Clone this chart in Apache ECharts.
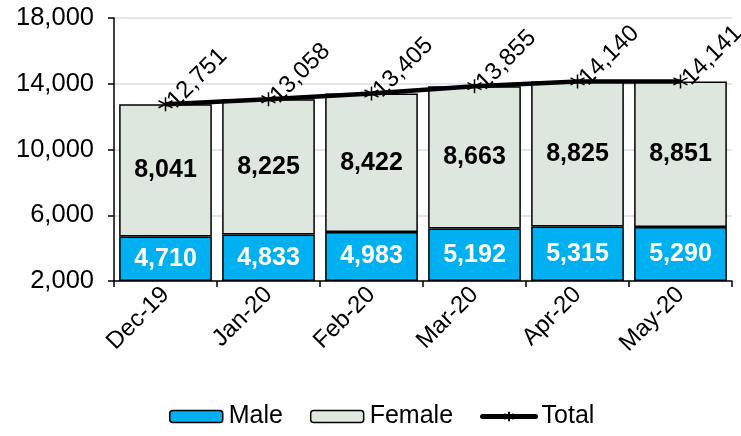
<!DOCTYPE html>
<html><head><meta charset="utf-8">
<script src="https://cdn.jsdelivr.net/npm/echarts@6/dist/echarts.min.js"></script>
<style>html,body{margin:0;padding:0;background:#fff}#c{width:741px;height:436px}</style>
</head><body><div id="c"></div>
<script>
const categories = ['Dec-19','Jan-20','Feb-20','Mar-20','Apr-20','May-20'];
const male = [4710, 4833, 4983, 5192, 5315, 5290];
const female = [8041, 8225, 8422, 8663, 8825, 8851];
const total = [12751, 13058, 13405, 13855, 14140, 14141];
const yTicks = [2000, 6000, 10000, 14000, 18000];

const star = 'path://M0,-6L0,6M-5.2,-3L5.2,3M-5.2,3L5.2,-3';
const fmt = v => v.toLocaleString('en-US');
const FONT = 'Liberation Sans, Arial, sans-serif';
const chart = echarts.init(document.getElementById('c'));
chart.setOption({
  animation: false,
  grid: { left: 114, right: 9, top: 18, bottom: 155 },
  legend: {
    bottom: 2, left: 164, itemGap: 27, itemWidth: 53, itemHeight: 12,
    textStyle: { fontFamily: FONT, fontSize: 25, color: '#000', padding: [0,0,0,1] },
    data: [
      { name: 'Male', itemStyle: { borderColor: '#000', borderWidth: 1.5 } },
      { name: 'Female', itemStyle: { borderColor: '#000', borderWidth: 1.5 } },
      { name: 'Total', lineStyle: { width: 5, color: '#000', cap: 'round' } }
    ]
  },
  xAxis: {
    type: 'category', data: categories,
    axisLine: { lineStyle: { color: '#000', width: 1.5 } },
    axisTick: { show: true, length: 6, lineStyle: { color: '#000', width: 1.5 } },
    axisLabel: { rotate: 45, fontFamily: FONT, fontSize: 24, color: '#000', margin: 10 }
  },
  yAxis: {
    type: 'value', min: yTicks[0], max: yTicks[yTicks.length-1], interval: 4000, startValue: 2000,
    axisLine: { show: true, lineStyle: { color: '#000', width: 1.5 } },
    axisTick: { show: true, length: 6, lineStyle: { color: '#000', width: 1.5 } },
    splitLine: { lineStyle: { color: '#d9dce8', width: 1.5 } },
    axisLabel: { fontFamily: FONT, fontSize: 25.5, color: '#000', margin: 20, formatter: v => fmt(v) }
  },
  series: [
    { name: 'Male', type: 'bar', stack: 'a', data: male, barCategoryGap: '10%',
      itemStyle: { color: '#00B0F0', borderColor: '#000', borderWidth: 1.5 },
      label: { show: true, position: 'inside', color: '#fff', fontWeight: 'bold', fontFamily: FONT, fontSize: 25, formatter: p => fmt(p.value) } },
    { name: 'Female', type: 'bar', stack: 'a', data: female,
      itemStyle: { color: '#DDE7DE', borderColor: '#000', borderWidth: 1.5 },
      label: { show: true, position: 'inside', color: '#000', fontWeight: 'bold', fontFamily: FONT, fontSize: 25, formatter: p => fmt(p.value) } },
    { name: 'Total', type: 'line', data: total, symbol: star, symbolSize: 14,
      lineStyle: { color: '#000', width: 4.5 },
      itemStyle: { color: 'transparent', borderColor: '#000', borderWidth: 1.5 },
      label: { show: true, position: 'right', distance: -2, rotate: 45, align: 'left', verticalAlign: 'middle',
        fontFamily: FONT, fontSize: 24, color: '#000', formatter: p => fmt(p.value) } }
  ]
});
</script></body></html>
